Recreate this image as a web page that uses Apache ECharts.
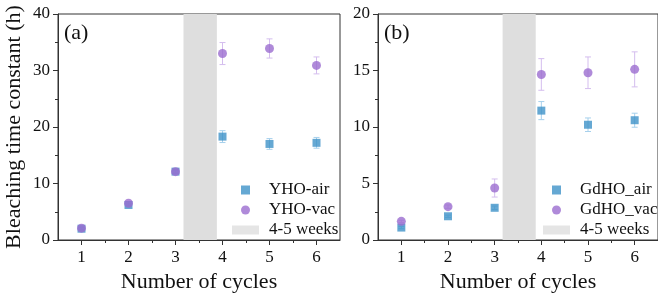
<!DOCTYPE html>
<html>
<head>
<meta charset="utf-8">
<script src="https://cdn.jsdelivr.net/npm/echarts@6/dist/echarts.min.js"></script>
<style>
  html, body { margin: 0; padding: 0; background: #fff; }
  #chart { width: 658px; height: 298px; }
</style>
</head>
<body>
<div id="chart"></div>
<script>
const cycles = [1, 2, 3, 4, 5, 6]
const minorCycles = [1.5, 2.5, 3.5, 4.5, 5.5]

// panel (a)
const yhoAir = [2.0, 6.2, 12.1, 18.3, 17.0, 17.2]
const yhoAirErr = [0.2, 0.2, 0.3, 1.05, 0.95, 0.95]
const yhoVac = [2.1, 6.5, 12.1, 33.0, 33.9, 30.9]
const yhoVacErr = [0.2, 0.3, 0.3, 1.95, 1.7, 1.5]

// panel (b)
const gdAir = [1.1, 2.1, 2.85, 11.45, 10.2, 10.6]
const gdAirErr = [0.1, 0.1, 0.15, 0.8, 0.6, 0.62]
const gdVac = [1.65, 2.95, 4.6, 14.65, 14.8, 15.1]
const gdVacErr = [0.1, 0.15, 0.8, 1.4, 1.4, 1.55]

// storage gap between cycle 3 and 4
const gapBand = [3.17, 3.88]

const FONT = 'Liberation Serif'
const BLUE = '#3f92c8'
const PURPLE = '#9b6dd0'
const BLUE_ERR = '#a6d0ec'
const PURPLE_ERR = '#d4bdee'
const GREY = '#dedede'

const chart = echarts.init(document.getElementById('chart'))

function points(vals) {
  return cycles.map((c, i) => [c, vals[i]])
}

function errData(vals, errs) {
  return cycles.map((c, i) => [c, vals[i] - errs[i], vals[i] + errs[i]])
}

function errSeries(idx, vals, errs, color) {
  return {
    type: 'custom',
    xAxisIndex: idx * 2,
    yAxisIndex: idx,
    silent: true,
    z: 1,
    data: errData(vals, errs),
    renderItem: (params, api) => {
      const lo = api.coord([api.value(0), api.value(1)])
      const hi = api.coord([api.value(0), api.value(2)])
      const w = 3
      const style = { stroke: color, lineWidth: 1 }
      return {
        type: 'group',
        children: [
          { type: 'line', shape: { x1: lo[0], y1: lo[1], x2: hi[0], y2: hi[1] }, style },
          { type: 'line', shape: { x1: lo[0] - w, y1: lo[1], x2: lo[0] + w, y2: lo[1] }, style },
          { type: 'line', shape: { x1: hi[0] - w, y1: hi[1], x2: hi[0] + w, y2: hi[1] }, style }
        ]
      }
    }
  }
}

function xAxis(idx) {
  return {
    type: 'value',
    gridIndex: idx,
    min: 0.5,
    max: 6.5,
    name: 'Number of cycles',
    nameLocation: 'middle',
    nameGap: 30,
    nameTextStyle: { fontFamily: FONT, fontSize: 22, color: '#111' },
    axisLine: { lineStyle: { color: '#333', width: 1 } },
    axisTick: { show: true, length: 5, customValues: cycles, lineStyle: { color: '#333' } },
    axisLabel: { fontFamily: FONT, fontSize: 17, color: '#111', margin: 9, customValues: cycles },
    splitLine: { show: false }
  }
}

// second x axis on each grid only for the short ticks between cycles
function minorXAxis(idx) {
  return {
    type: 'value',
    gridIndex: idx,
    position: 'bottom',
    min: 0.5,
    max: 6.5,
    axisLine: { show: false },
    axisTick: { show: true, length: 3, customValues: minorCycles, lineStyle: { color: '#333' } },
    axisLabel: { show: false },
    splitLine: { show: false }
  }
}

function yAxis(idx, max, step, withName) {
  return {
    type: 'value',
    gridIndex: idx,
    min: 0,
    max: max,
    interval: step,
    name: withName ? 'Bleaching time constant (h)' : '',
    nameLocation: 'middle',
    nameGap: 33,
    nameTextStyle: { fontFamily: FONT, fontSize: 22, color: '#111' },
    axisLine: { show: true, lineStyle: { color: '#333', width: 1 } },
    axisTick: { show: true, length: 5, lineStyle: { color: '#333' } },
    minorTick: { show: true, splitNumber: 2, length: 3, lineStyle: { color: '#333' } },
    axisLabel: { fontFamily: FONT, fontSize: 17, color: '#111', margin: 8 },
    splitLine: { show: false }
  }
}

function bandSeries(idx) {
  return {
    name: '4-5 weeks',
    type: 'scatter',
    xAxisIndex: idx * 2,
    yAxisIndex: idx,
    data: [],
    itemStyle: { color: GREY },
    markArea: {
      silent: true,
      itemStyle: { color: GREY },
      data: [[{ xAxis: gapBand[0] }, { xAxis: gapBand[1] }]]
    },
    z: 0
  }
}

const squareIcon = 'path://M0,0h10v10h-10z'

function legend(left, names) {
  return {
    orient: 'vertical',
    left: left,
    top: 181,
    padding: 0,
    itemWidth: 27,
    itemHeight: 9,
    itemGap: 2,
    selectedMode: false,
    textStyle: { fontFamily: FONT, fontSize: 17, lineHeight: 18, color: '#111', padding: [0, 0, 0, 5] },
    data: [
      { name: names[0], icon: squareIcon },
      { name: names[1], icon: 'circle' },
      { name: '4-5 weeks', icon: 'rect' }
    ]
  }
}

function scatter(name, idx, vals, symbol, size, color, z) {
  return {
    name: name, type: 'scatter', xAxisIndex: idx * 2, yAxisIndex: idx,
    symbol: symbol, symbolSize: size, itemStyle: { color: color }, z: z,
    data: points(vals)
  }
}

const option = {
  animation: false,
  backgroundColor: '#fff',
  grid: [
    { left: 58, top: 14, width: 282, height: 226, show: true, borderColor: '#333', borderWidth: 1 },
    { left: 378, top: 14, width: 282, height: 226, show: true, borderColor: '#333', borderWidth: 1 }
  ],
  xAxis: [xAxis(0), minorXAxis(0), xAxis(1), minorXAxis(1)],
  yAxis: [yAxis(0, 40, 10, true), yAxis(1, 20, 5, false)],
  legend: [legend(232, ['YHO-air', 'YHO-vac']), legend(543, ['GdHO_air', 'GdHO_vac'])],
  graphic: [
    { type: 'text', left: 64, top: 22, style: { text: '(a)', font: '22px ' + FONT, fill: '#111' } },
    { type: 'text', left: 384, top: 22, style: { text: '(b)', font: '22px ' + FONT, fill: '#111' } }
  ],
  series: [
    bandSeries(0),
    bandSeries(1),
    errSeries(0, yhoAir, yhoAirErr, BLUE_ERR),
    errSeries(0, yhoVac, yhoVacErr, PURPLE_ERR),
    errSeries(1, gdAir, gdAirErr, BLUE_ERR),
    errSeries(1, gdVac, gdVacErr, PURPLE_ERR),
    scatter('YHO-air', 0, yhoAir, 'rect', 8, BLUE, 3),
    scatter('YHO-vac', 0, yhoVac, 'circle', 9, PURPLE, 4),
    scatter('GdHO_air', 1, gdAir, 'rect', 8, BLUE, 3),
    scatter('GdHO_vac', 1, gdVac, 'circle', 9, PURPLE, 4)
  ]
}

chart.setOption(option)

window.addEventListener('resize', () => {
  chart.resize()
})
</script>
</body>
</html>
